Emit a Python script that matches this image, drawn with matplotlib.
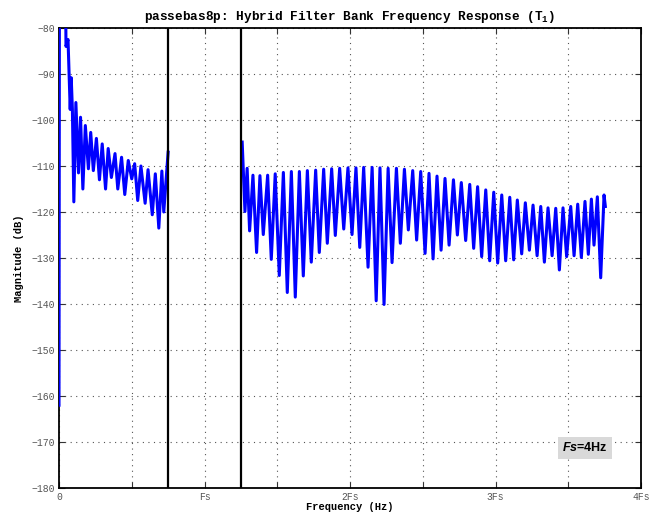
import matplotlib
matplotlib.use('Agg')
import matplotlib.pyplot as plt

plt.rcParams['mathtext.fontset'] = 'custom'
plt.rcParams['mathtext.rm'] = 'Liberation Mono:bold'
plt.rcParams['mathtext.bfit'] = 'Liberation Sans:italic:bold'

# Frequency in units of Fs, magnitude in dB
left_x = [0.000, 0.004, 0.038, 0.048, 0.062, 0.077, 0.084, 0.092, 0.102, 0.116,
          0.134, 0.148, 0.164, 0.181, 0.202, 0.218, 0.236, 0.257, 0.278, 0.297,
          0.320, 0.338, 0.360, 0.385, 0.404, 0.430, 0.452, 0.476, 0.500, 0.520,
          0.541, 0.563, 0.592, 0.612, 0.641, 0.662, 0.686, 0.707, 0.720, 0.750]
left_db = [-162.0, -40.0, -40.0, -84.0, -82.5, -97.7, -90.8, -97.7, -117.8, -96.2,
           -111.5, -99.4, -115.0, -101.2, -110.6, -102.7, -111.0, -104.0, -113.0, -105.2,
           -115.0, -106.2, -112.5, -107.3, -115.0, -108.1, -116.2, -108.8, -112.8, -109.5,
           -117.5, -110.0, -118.1, -110.8, -120.6, -111.7, -123.5, -111.1, -120.0, -107.0]

right_x = [1.259, 1.278, 1.293, 1.310, 1.333, 1.358, 1.381, 1.404, 1.434, 1.459,
           1.486, 1.514, 1.542, 1.569, 1.597, 1.624, 1.652, 1.679, 1.707, 1.734,
           1.764, 1.789, 1.819, 1.844, 1.874, 1.899, 1.929, 1.957, 1.986, 2.014,
           2.041, 2.067, 2.094, 2.124, 2.152, 2.180, 2.206, 2.234, 2.262, 2.289,
           2.319, 2.346, 2.374, 2.401, 2.431, 2.458, 2.486, 2.516, 2.543, 2.571,
           2.598, 2.626, 2.653, 2.681, 2.711, 2.738, 2.765, 2.795, 2.823, 2.850,
           2.877, 2.905, 2.933, 2.960, 2.988, 3.015, 3.043, 3.070, 3.098, 3.125,
           3.150, 3.180, 3.205, 3.233, 3.258, 3.286, 3.311, 3.336, 3.361, 3.389,
           3.414, 3.439, 3.464, 3.489, 3.517, 3.540, 3.565, 3.590, 3.615, 3.638,
           3.659, 3.677, 3.700, 3.723, 3.746, 3.755]
right_db = [-104.8, -119.9, -110.5, -124.1, -112.0, -128.8, -112.1, -124.9, -112.0, -130.3,
            -111.7, -133.8, -111.4, -137.5, -111.2, -138.5, -111.2, -133.9, -111.0, -130.9,
            -110.9, -128.8, -110.7, -126.8, -110.6, -125.1, -110.5, -123.7, -110.4, -124.9,
            -110.4, -127.7, -110.3, -132.0, -110.3, -139.3, -110.4, -140.1, -110.5, -131.0,
            -110.5, -126.8, -110.7, -123.9, -111.0, -126.1, -111.2, -129.0, -111.6, -130.2,
            -112.2, -128.3, -112.7, -127.2, -113.0, -125.0, -113.6, -126.2, -114.0, -127.9,
            -114.5, -129.7, -115.2, -130.6, -115.7, -131.1, -116.3, -130.6, -116.8, -130.4,
            -117.4, -129.1, -118.0, -128.3, -118.5, -129.5, -118.8, -130.9, -119.1, -129.5,
            -119.2, -132.6, -119.1, -129.7, -118.8, -129.5, -118.3, -129.9, -117.7, -129.2,
            -117.2, -127.2, -116.7, -134.3, -116.3, -118.8]

band_edges = [0.75, 1.25]
xtick_pos = [0, 0.5, 1, 1.5, 2, 2.5, 3, 3.5, 4]
xtick_labels = ['0', '', 'Fs', '', '2Fs', '', '3Fs', '', '4Fs']
ytick_pos = list(range(-180, -79, 10))

fig = plt.figure(figsize=(6.65, 5.16), dpi=100)
ax = fig.add_axes([59/665, 28/516, 582/665, 460/516])

ax.plot(left_x, left_db, color='#0000ff', lw=2.2, solid_joinstyle='round', zorder=3)
ax.plot(right_x, right_db, color='#0000ff', lw=2.2, solid_joinstyle='round', zorder=3)
for e in band_edges:
    ax.axvline(e, color='black', lw=1.6, zorder=4)

ax.set_xlim(0, 4)
ax.set_ylim(-180, -80)
ax.set_xticks(xtick_pos)
ax.set_xticklabels(xtick_labels)
ax.set_yticks(ytick_pos)
ax.grid(True, linestyle=(0, (1, 4)), color='#555555', lw=0.8)
ax.tick_params(direction='in', top=True, right=True, length=4, width=0.8,
               labelsize=7, labelcolor='#555555', color='#333333', pad=3)
for lab in ax.get_xticklabels() + ax.get_yticklabels():
    lab.set_fontfamily('Liberation Mono')
for s in ax.spines.values():
    s.set_linewidth(1.3)

ax.set_title('passebas8p: Hybrid Filter Bank Frequency Response (T$_{1}$)',
             fontfamily='Liberation Mono', fontweight='bold', fontsize=9.2, pad=6)
ax.set_xlabel('Frequency (Hz)', fontfamily='Liberation Mono', fontweight='bold',
              fontsize=7.5, labelpad=0)
ax.set_ylabel('Magnitude (dB)', fontfamily='Liberation Mono', fontweight='bold',
              fontsize=7.5, labelpad=5)

ax.text(0.904, 0.087, r'$\mathbfit{Fs}$=4Hz', transform=ax.transAxes,
        ha='center', va='center', fontsize=9, fontweight='bold',
        fontfamily='Liberation Sans', zorder=5,
        bbox=dict(boxstyle='square,pad=0.35', facecolor='#d9d9d9', edgecolor='none'))

fig.savefig('out.png', dpi=100)
